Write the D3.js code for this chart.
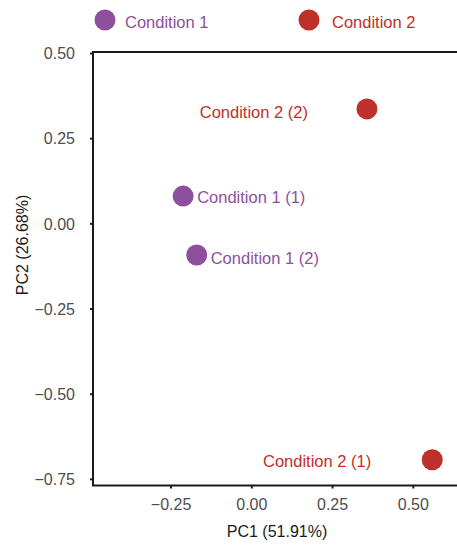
<!DOCTYPE html>
<html>
<head>
<meta charset="utf-8">
<script src="https://cdn.jsdelivr.net/npm/d3@7"></script>
<style>
  html, body { margin: 0; padding: 0; background: #fff; }
  svg { display: block; font-family: "Liberation Sans", Arial, Helvetica, sans-serif; }
</style>
</head>
<body>
<svg id="chart" width="457" height="548"></svg>
<script>
// ---- data ----
const sampleNames = ["Condition 1 (1)", "Condition 1 (2)", "Condition 2 (1)", "Condition 2 (2)"];
const sampleGroups = ["Condition 1", "Condition 1", "Condition 2", "Condition 2"];
const pc1Values = [-0.211, -0.169, 0.560, 0.358];
const pc2Values = [0.080, -0.093, -0.694, 0.336];
const groupNames = ["Condition 1", "Condition 2"];
const xTickValues = [-0.25, 0.00, 0.25, 0.50];
const yTickValues = [0.50, 0.25, 0.00, -0.25, -0.50, -0.75];
const xTitle = "PC1 (51.91%)";
const yTitle = "PC2 (26.68%)";

// ---- style / layout ----
const groupColors = ["#8E4F9D", "#C0302A"];
const labelSide = ["right", "right", "left", "left"];
const labelGap = [14, 14, 61, 59];
const labelDy = [7, 9, 7, 9];

const svg = d3.select("#chart");
const mLeft = 93, mTop = 52, mBottom = 485.5, mRight = 460;

const x = d3.scaleLinear().domain([-0.49, 0.646]).range([mLeft, mRight]);
const y = d3.scaleLinear().domain([-0.7695, 0.503]).range([mBottom, mTop]);
const color = d3.scaleOrdinal().domain(groupNames).range(groupColors);

const data = sampleNames.map((n, i) => ({
  name: n, group: sampleGroups[i], pc1: pc1Values[i], pc2: pc2Values[i],
  side: labelSide[i], gap: labelGap[i], dy: labelDy[i]
}));

// axes
const fmt = d => d3.format(".2f")(d).replace("-", "\u2212");
const yAxis = d3.axisLeft(y).tickValues(yTickValues).tickSize(3).tickPadding(15).tickFormat(fmt);
const gy = svg.append("g").attr("transform", `translate(${mLeft},0)`).call(yAxis);
gy.select(".domain").remove();
gy.selectAll(".tick line").attr("stroke", "#222").attr("stroke-width", 2);
gy.selectAll(".tick text").attr("fill", "#4D4D4D").style("font-size", "16px").attr("dy", "0.36em");

const xAxis = d3.axisBottom(x).tickValues(xTickValues).tickSize(3).tickPadding(10).tickFormat(fmt);
const gx = svg.append("g").attr("transform", `translate(0,${mBottom})`).call(xAxis);
gx.select(".domain").remove();
gx.selectAll(".tick line").attr("stroke", "#222").attr("stroke-width", 2);
gx.selectAll(".tick text").attr("fill", "#4D4D4D").style("font-size", "16px");

// panel border
svg.append("rect")
  .attr("x", mLeft).attr("y", mTop)
  .attr("width", mRight - mLeft).attr("height", mBottom - mTop)
  .attr("fill", "none").attr("stroke", "#1a1a1a").attr("stroke-width", 2);

// axis titles
svg.append("text").attr("x", 277).attr("y", 537)
  .attr("text-anchor", "middle").attr("fill", "#1a1a1a").style("font-size", "16px")
  .text(xTitle);
svg.append("text").attr("transform", "translate(28,245) rotate(-90)")
  .attr("text-anchor", "middle").attr("fill", "#1a1a1a").style("font-size", "16px")
  .text(yTitle);

// points
svg.append("g").selectAll("circle").data(data).join("circle")
  .attr("cx", d => x(d.pc1)).attr("cy", d => y(d.pc2)).attr("r", 10.5)
  .attr("fill", d => color(d.group));

// point labels
svg.append("g").selectAll("text").data(data).join("text")
  .attr("x", d => x(d.pc1) + (d.side === "right" ? d.gap : -d.gap))
  .attr("y", d => y(d.pc2) + d.dy)
  .attr("text-anchor", d => d.side === "right" ? "start" : "end")
  .attr("fill", d => color(d.group))
  .style("font-size", "16.5px")
  .text(d => d.name);

// legend
const legendX = [105, 309];
const legendTextX = [125, 332];
const lg = svg.append("g").selectAll("g").data(groupNames).join("g");
lg.append("circle").attr("cx", (d, i) => legendX[i]).attr("cy", 20).attr("r", 10.5)
  .attr("fill", d => color(d));
lg.append("text").attr("x", (d, i) => legendTextX[i]).attr("y", 27.5)
  .attr("fill", d => color(d)).style("font-size", "16.5px").text(d => d);
</script>
</body>
</html>
